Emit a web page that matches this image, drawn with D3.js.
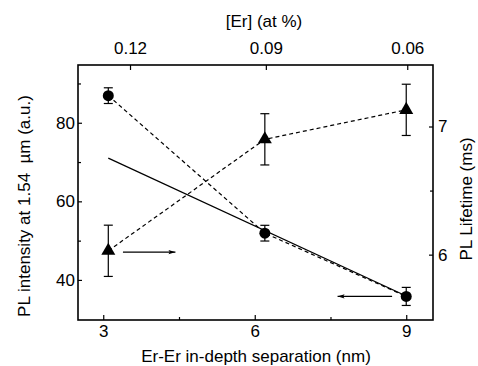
<!DOCTYPE html>
<html>
<head>
<meta charset="utf-8">
<script src="https://cdn.jsdelivr.net/npm/d3@7"></script>
<style>
  body { margin: 0; background: #fff; }
  svg { display: block; font-family: "Liberation Sans", Arial, sans-serif; }
</style>
</head>
<body>
<svg width="478" height="366"></svg>
<script>
    // Er-Er separation (nm) of the three samples
    const separation = [3.1, 6.2, 9.0];
    // PL intensity at 1.54 um (a.u.), left axis
    const intensity = [86.9, 51.9, 35.8];
    const intensityErr = [2.0, 2.0, 2.3];
    // PL lifetime (ms), right axis
    const lifetime = [6.03, 6.9, 7.13];
    const lifetimeErr = [0.2, 0.2, 0.2];
    // linear fit of the intensity, end points
    const fitX = [3.1, 9.0];
    const fitY = [71.0, 35.9];
    // top axis: Er concentration and where it sits on the separation axis
    const erTicks = [0.12, 0.09, 0.06];
    const erAtSeparation = [3.53, 6.22, 9.02];
    // tick values
    const xTicks = [3, 6, 9];
    const xMinor = [4.5, 7.5];
    const yLeftTicks = [40, 60, 80];
    const yLeftMinor = [50, 70, 90];
    const yRightTicks = [6, 7];
    const yRightMinor = [6.5];
    // arrows pointing at each series' axis
    const arrowRight = { x: [3.39, 4.43], y: 6.02 };
    const arrowLeft = { x: [8.72, 7.64], y: 35.8 };

    const svg = d3.select('svg');
    const margin = { top: 65, right: 45, bottom: 46, left: 78 };
    const width = 478 - margin.left - margin.right;
    const height = 366 - margin.top - margin.bottom;

    const xScale = d3.scaleLinear()
      .domain([2.5, 9.53])
      .range([0, width]);
    const yLeft = d3.scaleLinear()
      .domain([29.8, 94.7])
      .range([height, 0]);
    const yRight = d3.scaleLinear()
      .domain([5.49, 7.48])
      .range([height, 0]);
    const topScale = d3.scaleLinear()
      .domain(erTicks)
      .range(erAtSeparation.map(xScale));

    const g = svg.append('g')
      .attr('transform', 'translate(' + margin.left + ',' + margin.top + ')');

    svg.append('defs').append('marker')
      .attr('id', 'head')
      .attr('viewBox', '0 0 10 6')
      .attr('refX', 10)
      .attr('refY', 3)
      .attr('markerWidth', 7)
      .attr('markerHeight', 5)
      .attr('markerUnits', 'userSpaceOnUse')
      .attr('orient', 'auto')
      .append('path')
      .attr('d', 'M0,0L10,3L0,6L2,3Z')
      .attr('fill', '#000');

    // axes, ticks pointing inward
    function styleAxis(sel) {
      sel.select('.domain').remove();
      sel.selectAll('line').attr('stroke', '#000').attr('stroke-width', 1.2);
      sel.selectAll('text').attr('fill', '#000').style('font-size', '17px');
    }
    g.append('g')
      .attr('transform', 'translate(0,' + height + ')')
      .call(d3.axisBottom(xScale).tickValues(xTicks).tickFormat(d3.format('d')).tickSizeInner(-5).tickSizeOuter(0).tickPadding(5))
      .call(styleAxis);
    g.append('g')
      .attr('transform', 'translate(0,' + height + ')')
      .call(d3.axisBottom(xScale).tickValues(xMinor).tickFormat('').tickSizeInner(-3).tickSizeOuter(0))
      .call(styleAxis);
    g.append('g')
      .call(d3.axisTop(topScale).tickValues(erTicks).tickFormat(d3.format('.2f')).tickSizeInner(-5).tickSizeOuter(0).tickPadding(11))
      .call(styleAxis);
    g.append('g')
      .call(d3.axisLeft(yLeft).tickValues(yLeftTicks).tickSizeInner(-4).tickSizeOuter(0).tickPadding(3))
      .call(styleAxis);
    g.append('g')
      .call(d3.axisLeft(yLeft).tickValues(yLeftMinor).tickFormat('').tickSizeInner(-3).tickSizeOuter(0))
      .call(styleAxis);
    g.append('g')
      .attr('transform', 'translate(' + width + ',0)')
      .call(d3.axisRight(yRight).tickValues(yRightTicks).tickFormat(d3.format('d')).tickSizeInner(-4).tickSizeOuter(0).tickPadding(5))
      .call(styleAxis);
    g.append('g')
      .attr('transform', 'translate(' + width + ',0)')
      .call(d3.axisRight(yRight).tickValues(yRightMinor).tickFormat('').tickSizeInner(-3).tickSizeOuter(0))
      .call(styleAxis);

    // frame
    g.append('rect')
      .attr('width', width)
      .attr('height', height)
      .attr('fill', 'none')
      .attr('stroke', '#000')
      .attr('stroke-width', 1.6);

    // axis titles
    svg.append('text')
      .attr('x', 256).attr('y', 362)
      .attr('text-anchor', 'middle')
      .style('font-size', '17px')
      .text('Er-Er in-depth separation (nm)');
    svg.append('text')
      .attr('x', 264).attr('y', 27)
      .attr('text-anchor', 'middle')
      .style('font-size', '17px')
      .text('[Er] (at %)');
    svg.append('text')
      .attr('transform', 'translate(30,206) rotate(-90)')
      .attr('text-anchor', 'middle')
      .style('font-size', '17px')
      .style('white-space', 'pre')
      .text('PL intensity at 1.54  \u00b5m (a.u.)');
    svg.append('text')
      .attr('transform', 'translate(472,199) rotate(-90)')
      .attr('text-anchor', 'middle')
      .style('font-size', '17px')
      .text('PL Lifetime (ms)');

    // linear fit
    g.append('line')
      .attr('x1', xScale(fitX[0])).attr('y1', yLeft(fitY[0]))
      .attr('x2', xScale(fitX[1])).attr('y2', yLeft(fitY[1]))
      .attr('stroke', '#000')
      .attr('stroke-width', 1.2);

    // dashed connectors
    const lineLeft = d3.line()
      .x(function(d, i) {return xScale(separation[i])})
      .y(function(d) {return yLeft(d)});
    const lineRight = d3.line()
      .x(function(d, i) {return xScale(separation[i])})
      .y(function(d) {return yRight(d)});
    g.append('path')
      .attr('d', lineLeft(intensity))
      .attr('fill', 'none')
      .attr('stroke', '#000')
      .attr('stroke-width', 1.2)
      .attr('stroke-dasharray', '4,3');
    g.append('path')
      .attr('d', lineRight(lifetime))
      .attr('fill', 'none')
      .attr('stroke', '#000')
      .attr('stroke-width', 1.2)
      .attr('stroke-dasharray', '4,3');

    // error bars
    function errorBars(values, errs, yScale) {
      const bars = g.append('g')
        .attr('stroke', '#000')
        .attr('stroke-width', 1.2)
        .selectAll('g').data(values).enter().append('g');
      bars.append('line')
        .attr('x1', function(d, i) {return xScale(separation[i])})
        .attr('x2', function(d, i) {return xScale(separation[i])})
        .attr('y1', function(d, i) {return yScale(d - errs[i])})
        .attr('y2', function(d, i) {return yScale(d + errs[i])});
      [-1, 1].forEach(function(s) {
        bars.append('line')
          .attr('x1', function(d, i) {return xScale(separation[i]) - 4.5})
          .attr('x2', function(d, i) {return xScale(separation[i]) + 4.5})
          .attr('y1', function(d, i) {return yScale(d + s * errs[i])})
          .attr('y2', function(d, i) {return yScale(d + s * errs[i])});
      });
    }
    errorBars(intensity, intensityErr, yLeft);
    errorBars(lifetime, lifetimeErr, yRight);

    // markers
    g.selectAll('circle').data(intensity).enter().append('circle')
      .attr('cx', function(d, i) {return xScale(separation[i])})
      .attr('cy', function(d) {return yLeft(d)})
      .attr('r', 5.5)
      .attr('fill', '#000');
    g.selectAll('path.tri').data(lifetime).enter().append('path')
      .attr('class', 'tri')
      .attr('d', d3.symbol(d3.symbolTriangle, 85))
      .attr('transform', function(d, i) {return 'translate(' + xScale(separation[i]) + ',' + yRight(d) + ')'})
      .attr('fill', '#000');

    // arrows
    g.append('line')
      .attr('x1', xScale(arrowRight.x[0])).attr('y1', yRight(arrowRight.y))
      .attr('x2', xScale(arrowRight.x[1])).attr('y2', yRight(arrowRight.y))
      .attr('stroke', '#000').attr('stroke-width', 1.2)
      .attr('marker-end', 'url(#head)');
    g.append('line')
      .attr('x1', xScale(arrowLeft.x[0])).attr('y1', yLeft(arrowLeft.y))
      .attr('x2', xScale(arrowLeft.x[1])).attr('y2', yLeft(arrowLeft.y))
      .attr('stroke', '#000').attr('stroke-width', 1.2)
      .attr('marker-end', 'url(#head)');
</script>
</body>
</html>
